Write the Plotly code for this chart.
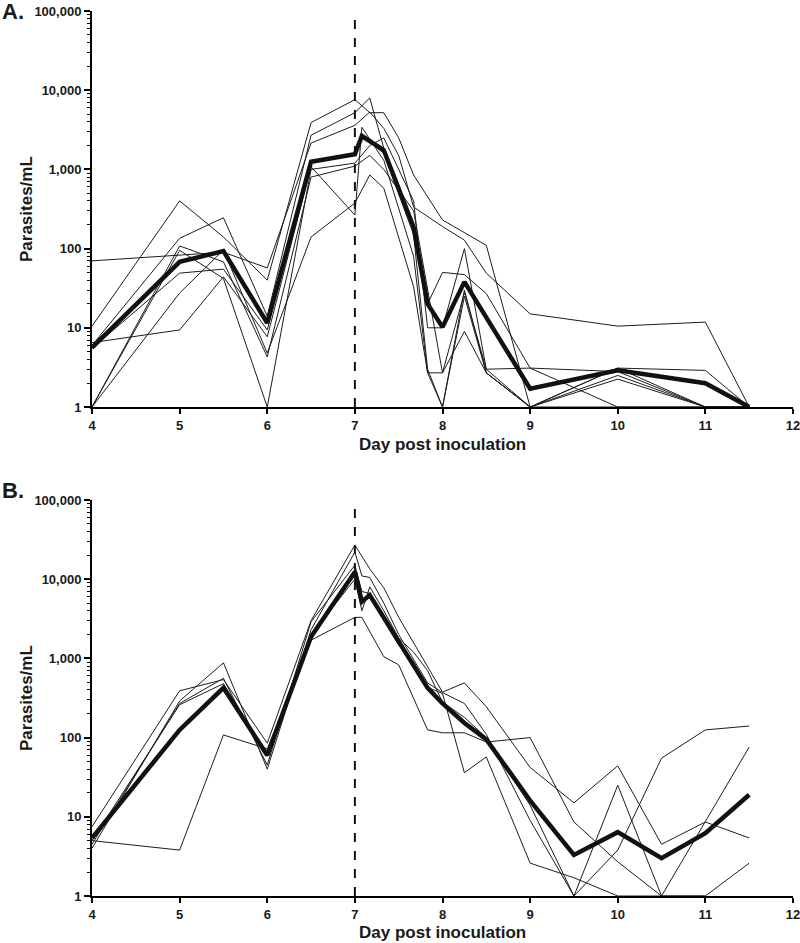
import plotly.graph_objects as go

# ---------------- data ----------------
days_A = [4, 5, 5.5, 6, 6.5, 7, 7.08, 7.17, 7.33, 7.5, 7.67, 7.83, 8, 8.25, 8.5, 9, 10, 11, 11.5]
A_subj1 = [70, None, 90, 57, 2150, 3600, None, 5300, 3300, 1500, 335, None, 190, 128, 49, 15, 10.5, 11.8, 1]
A_subj2 = [10.5, 400, 140, 40, 3900, 7600, None, 5200, 5200, 2500, 850, None, 230, 160, 110, 1, 1, 1, 1]
A_subj3 = [6, 135, 245, 14, 2700, 5200, None, 8000, 1850, None, 200, 20, 50, 47, 27, 3.1, 2.8, 1, 1]
A_subj4 = [6.5, 9.4, 44, 7.7, 1080, 265, 3400, None, 1300, None, 80, 2.7, 1, 25, 2.7, 1, 3.1, 2.9, 1]
A_subj5 = [1, 27.5, 96, 4.8, 140, 375, None, 850, 580, None, 33, 2.7, 2.7, 9, 2.7, 1, 2.25, 1, 1]
A_subj6 = [1, 108, 68, 4.3, 800, 1100, None, 1500, 1000, None, 300, 30, 2.7, 28, 3, 1, 2.5, 1, 1]
A_subj7 = [5.5, 49, 55, 9.4, 1250, 1500, 2600, None, 1600, None, 150, 3, 1, 30, 2.7, 1, 3.1, 1, 1]
A_subj8 = [1, 95, 42, 1, 1000, 1200, None, 2000, 2500, None, 400, 10, 10, 100, 3, 3.1, 1, 1, 1]
A_mean = [5.6, 68, 93, 11.5, 1250, 1550, 2640, None, 1750, None, 187, 20, 10.2, 38, None, 1.7, 2.9, 2.0, 1]

days_B = [4, 5, 5.5, 6, 6.5, 7, 7.08, 7.17, 7.33, 7.5, 7.67, 7.83, 8, 8.25, 8.5, 9, 9.5, 10, 10.5, 11, 11.5]
B_subj1 = [5, 3.8, 108, 72, 1700, 3300, 3300, None, 1050, 830, None, 125, 115, 115, 88, 100, 8.6, 2.7, 1, 8.6, 76]
B_subj2 = [7.5, 390, 540, 85, 3000, 27000, None, 13500, 7800, 3300, 1570, 780, 375, 490, 245, 42, 15, 44, 4.5, 8.6, 5.4]
B_subj3 = [4, 290, 880, 40, 2300, 22000, 11000, 10500, 5000, 2000, None, 490, 370, 270, 110, 9, 1, 25, 1, 1, None]
B_subj4 = [4.5, 270, 560, 45, 2900, 15000, 7000, 6600, 3000, 1470, 900, 430, 360, 36, 57, 2.6, 1.7, 1, 1, 1, 2.6]
B_subj5 = [5, 260, 480, 60, 2000, 10000, 4000, 8000, 4000, 1800, 1200, 700, 280, 180, 100, 14, 1, 3.8, 55, 125, 140]
B_mean = [5.4, 125, 425, 60, 1880, 12300, 5200, 6300, None, None, None, 425, 270, 153, 95, 16, 3.3, 6.4, 3.0, 6.2, 19]

x_ticks = [4, 5, 6, 7, 8, 9, 10, 11, 12]
y_ticks = [1, 10, 100, 1000, 10000, 100000]
y_ticktext = ["1", "10", "100", "1,000", "10,000", "100,000"]
treatment_day = 7

# ---------------- figure ----------------
fig = go.Figure()
FONT = "Liberation Sans, Arial, sans-serif"

def add_panel(days, subjects, mean, xa, ya):
    for s in subjects:
        fig.add_trace(go.Scatter(x=days, y=s, mode="lines", connectgaps=True,
                                 line=dict(color="#1c1c1c", width=1),
                                 xaxis=xa, yaxis=ya, showlegend=False, hoverinfo="skip"))
    fig.add_trace(go.Scatter(x=days, y=mean, mode="lines", connectgaps=True,
                             line=dict(color="#111111", width=4.5),
                             xaxis=xa, yaxis=ya, showlegend=False))

add_panel(days_A, [A_subj1, A_subj2, A_subj3, A_subj4, A_subj5, A_subj6, A_subj7, A_subj8], A_mean, "x", "y")
add_panel(days_B, [B_subj1, B_subj2, B_subj3, B_subj4, B_subj5], B_mean, "x2", "y2")

minor_vals = [m * 10 ** e for e in range(0, 5) for m in range(2, 10)]

def yaxis_cfg(domain, anchor):
    return dict(domain=domain, anchor=anchor, type="log", range=[0, 5], automargin=False,
                tickvals=y_ticks, ticktext=y_ticktext, ticks="outside", ticklen=6,
                tickwidth=1.5, tickcolor="black", showline=True, linewidth=2,
                linecolor="black", showgrid=False, zeroline=False,
                ticklabeloverflow="allow",
                tickfont=dict(family=FONT, size=13, color="#1a1a1a", weight="bold"),
                minor=dict(tickvals=minor_vals, ticks="outside", ticklen=3,
                           tickwidth=1, tickcolor="black", showgrid=False))

def xaxis_cfg(anchor):
    return dict(domain=[0, 1], anchor=anchor, range=[4, 12], tickvals=x_ticks, automargin=False,
                ticks="outside", ticklen=5, tickwidth=1.5, tickcolor="black",
                showline=True, linewidth=2, linecolor="black", showgrid=False,
                zeroline=False, ticklabeloverflow="allow",
                tickfont=dict(family=FONT, size=13, color="#1a1a1a", weight="bold"))

top_A = 1.0
bot_A = (896 - 407) / 885
top_B = (896 - 500) / 885

fig.update_layout(
    width=800, height=943,
    margin=dict(l=92, r=7, t=11, b=47, autoexpand=False),
    paper_bgcolor="white", plot_bgcolor="white",
    xaxis=xaxis_cfg("y"), yaxis=yaxis_cfg([bot_A, top_A], "x"),
    xaxis2=xaxis_cfg("y2"), yaxis2=yaxis_cfg([0, top_B], "x2"),
)

for xr, yr in [("x", "y"), ("x2", "y2")]:
    fig.add_shape(type="line", xref=xr, yref=yr + " domain", x0=treatment_day, x1=treatment_day,
                  y0=0, y1=1, line=dict(color="#111111", width=2, dash="dash"))

ann_font = dict(family=FONT, size=17, color="#1a1a1a", weight="bold")
for ymid, xlab_y, lab, laby in [((bot_A + 1) / 2, (896 - 444) / 885, "A.", (896 - 11) / 885),
                                 (top_B / 2, (896 - 932) / 885, "B.", (896 - 490) / 885)]:
    fig.add_annotation(text="Parasites/mL", xref="paper", yref="paper",
                       x=(26 - 92) / 701, y=ymid, textangle=-90, showarrow=False,
                       font=ann_font, xanchor="center", yanchor="middle")
    fig.add_annotation(text="Day post inoculation", xref="paper", yref="paper",
                       x=0.5, y=xlab_y, showarrow=False, font=ann_font,
                       xanchor="center", yanchor="middle")
    fig.add_annotation(text=lab, xref="paper", yref="paper",
                       x=(0 - 92) / 701, y=laby, showarrow=False,
                       font=dict(family=FONT, size=22, color="#1a1a1a", weight="bold"),
                       xanchor="left", yanchor="middle")

fig.write_html("out.html", config={"displayModeBar": False},
               post_script="document.body.style.margin='0px';document.body.style.overflow='hidden';")
